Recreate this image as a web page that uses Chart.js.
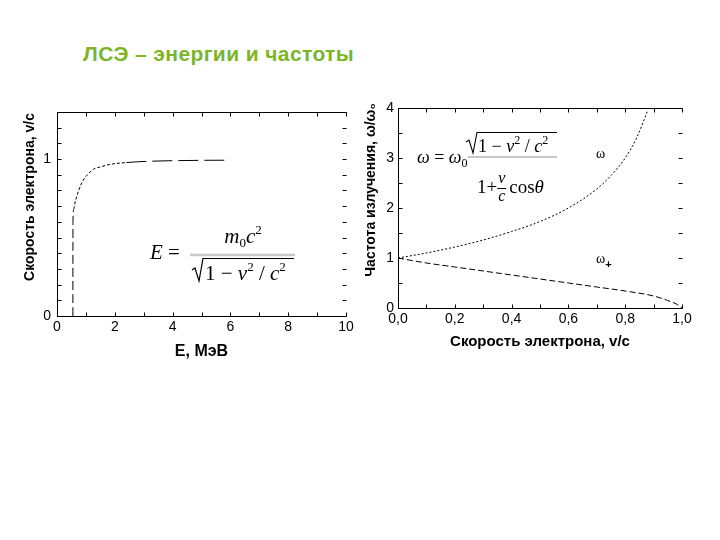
<!DOCTYPE html>
<html lang="ru">
<head>
<meta charset="UTF-8">
<title>ЛСЭ – энергии и частоты</title>
<script src="https://cdn.jsdelivr.net/npm/chart.js"></script>
<style>
  body { margin: 0; background: #fff; width: 720px; height: 540px; position: relative; overflow: hidden; font-family: "Liberation Sans", Arial, sans-serif; }
  h1 { position: absolute; left: 83px; top: 42px; margin: 0; font-size: 21px; font-weight: bold; letter-spacing: 0.4px; color: #7cb526; }
  .box { position: absolute; top: 85px; width: 360px; height: 280px; }
</style>
</head>
<body>
<h1>ЛСЭ – энергии и частоты</h1>
<div class="box" style="left:0"><canvas id="left"></canvas></div>
<div class="box" style="left:360px"><canvas id="right"></canvas></div>

<script>
// left chart: electron speed vs energy
const energy   = [0.55, 0.552, 0.58, 0.62, 0.68, 0.75, 0.89, 1.05, 1.26, 1.5, 1.83, 2.4, 3.2, 4.1, 5.0, 6.0];
const speedV   = [0.0, 0.6, 0.68, 0.72, 0.76, 0.8, 0.86, 0.9, 0.935, 0.95, 0.966, 0.978, 0.986, 0.99, 0.992, 0.993];

// right chart: frequency vs electron speed
const speedUp  = [0, 0.1, 0.2, 0.3, 0.4, 0.5, 0.6, 0.7, 0.75, 0.8, 0.84, 0.88];
const omegaUp  = [1.0, 1.1, 1.22, 1.36, 1.53, 1.73, 2.0, 2.38, 2.65, 3.0, 3.4, 3.96];
const speedLow = [0, 0.1, 0.2, 0.3, 0.4, 0.5, 0.6, 0.7, 0.8, 0.9, 0.95, 0.98, 1.0];
const omegaLow = [1.0, 0.9, 0.82, 0.74, 0.66, 0.58, 0.5, 0.42, 0.34, 0.24, 0.15, 0.08, 0];

const leftXLabels  = [0, 2, 4, 6, 8, 10];
const leftYLabels  = [0, 1];
const rightXLabels = [0, 0.2, 0.4, 0.6, 0.8, 1.0];
const rightYLabels = [0, 1, 2, 3, 4];

const SANS = '"Liberation Sans", Arial, sans-serif';
const SERIF = '"Liberation Serif", "Times New Roman", serif';

const pts = (xs, ys) => xs.map((x, i) => ({ x, y: ys[i] }));
const near = (v, list) => list.some(l => Math.abs(v - l) < 1e-6);

// box on three sides + inward ticks on all four
const frame = {
  id: 'frame',
  afterDatasetsDraw(chart) {
    const { ctx, chartArea: a, scales: { x, y } } = chart;
    const L = Math.round(a.left) + 0.5, R = Math.round(a.right) + 0.5;
    const T = Math.round(a.top) + 0.5, B = Math.round(a.bottom) + 0.5;
    ctx.save();
    ctx.strokeStyle = '#000';
    ctx.lineWidth = 1;
    ctx.beginPath();
    ctx.moveTo(R, T); ctx.lineTo(L, T); ctx.lineTo(L, B); ctx.lineTo(R, B);
    x.ticks.forEach(t => {
      const p = Math.round(x.getPixelForValue(t.value)) + 0.5;
      ctx.moveTo(p, B); ctx.lineTo(p, B - 4);
      ctx.moveTo(p, T); ctx.lineTo(p, T + 4);
    });
    y.ticks.forEach(t => {
      const p = Math.round(y.getPixelForValue(t.value)) + 0.5;
      ctx.moveTo(L, p); ctx.lineTo(L + 4, p);
      ctx.moveTo(R, p); ctx.lineTo(R - 4, p);
    });
    ctx.stroke();
    ctx.restore();
  }
};

function width(ctx, items) {
  let w = 0;
  items.forEach(([t, f]) => { ctx.font = f; w += ctx.measureText(t).width; });
  return w;
}

function run(ctx, x, y, items) {
  items.forEach(([t, f, dy]) => {
    ctx.font = f;
    ctx.fillText(t, x, y + (dy || 0));
    x += ctx.measureText(t).width;
  });
  return x;
}

function radical(ctx, x, base, top, end) {
  ctx.beginPath();
  ctx.moveTo(x, base - 10);
  ctx.lineTo(x + 3, base - 12);
  ctx.lineTo(x + 7, base + 1);
  ctx.lineTo(x + 11, top);
  ctx.lineTo(end, top);
  ctx.stroke();
}

function vTitle(ctx, text, x, y, font) {
  ctx.save();
  ctx.translate(x, y);
  ctx.rotate(-Math.PI / 2);
  ctx.font = font;
  ctx.textAlign = 'center';
  ctx.textBaseline = 'middle';
  ctx.fillStyle = '#000';
  ctx.fillText(text, 0, 0);
  ctx.restore();
}

const leftNotes = {
  id: 'leftNotes',
  afterDraw(chart) {
    const ctx = chart.ctx;
    const I = 'italic 21px ' + SERIF, R = '21px ' + SERIF, S = '13px ' + SERIF;
    ctx.save();
    ctx.fillStyle = '#000';
    ctx.strokeStyle = '#000';
    ctx.lineWidth = 1;
    vTitle(ctx, 'Скорость электрона, v/c', 30, 112, 'bold 14px ' + SANS);
    run(ctx, 150, 174, [['E', I], [' = ', R]]);
    ctx.save();
    ctx.strokeStyle = '#c8c8c8'; ctx.lineWidth = 2.5;
    ctx.beginPath(); ctx.moveTo(190, 170); ctx.lineTo(295, 170); ctx.stroke();
    ctx.restore();
    const num = [['m', I], ['0', S, 4], ['c', I], ['2', S, -9]];
    run(ctx, 243 - width(ctx, num) / 2, 158, num);
    const den = [['1', R], [' − ', R], ['v', I], ['2', S, -9], [' / ', R], ['c', I], ['2', S, -9]];
    const end = run(ctx, 205, 195, den);
    ctx.lineWidth = 1.2;
    radical(ctx, 192, 195, 173.5, Math.max(end + 2, 294));
    ctx.restore();
  }
};

const rightNotes = {
  id: 'rightNotes',
  afterDraw(chart) {
    const ctx = chart.ctx;
    const I = 'italic 18px ' + SERIF, R = '18px ' + SERIF, S = '12px ' + SERIF;
    ctx.save();
    ctx.fillStyle = '#000';
    ctx.strokeStyle = '#000';
    ctx.lineWidth = 1;
    vTitle(ctx, 'Частота излучения, ω/ω₀', 11, 105, 'bold 14px ' + SANS);
    run(ctx, 57, 78, [['ω', I], [' = ', R], ['ω', I], ['0', S, 4]]);
    ctx.save();
    ctx.strokeStyle = '#b4b4b4'; ctx.lineWidth = 1.5;
    ctx.beginPath(); ctx.moveTo(108, 72); ctx.lineTo(197, 72); ctx.stroke();
    ctx.restore();
    const end = run(ctx, 118, 67, [['1', R], [' − ', R], ['v', I], ['2', S, -8], [' / ', R], ['c', I], ['2', S, -8]]);
    ctx.lineWidth = 1.1;
    radical(ctx, 106, 67, 47.5, Math.max(end + 2, 197));
    ctx.lineWidth = 1;
    let x = run(ctx, 117, 108, [['1', '19px ' + SERIF], ['+', '19px ' + SERIF]]);
    run(ctx, x + 1, 98, [['v', 'italic 16px ' + SERIF]]);
    run(ctx, x + 1, 116, [['c', 'italic 16px ' + SERIF]]);
    ctx.beginPath(); ctx.moveTo(x, 103.5); ctx.lineTo(x + 9, 103.5); ctx.stroke();
    run(ctx, x + 12, 108, [['cos', '19px ' + SERIF], ['θ', 'italic 19px ' + SERIF]]);
    run(ctx, 236, 73, [['ω', '14px ' + SERIF]]);
    run(ctx, 236, 178, [['ω', '14px ' + SERIF], ['+', 'bold 11px ' + SANS, 5]]);
    ctx.restore();
  }
};

const tickFont = { family: SANS, size: 14 };

function baseOptions(o) {
  return {
    responsive: true,
    maintainAspectRatio: false,
    animation: false,
    layout: { padding: o.padding },
    plugins: { legend: { display: false }, tooltip: { enabled: false } },
    scales: {
      x: {
        type: 'linear', min: o.xMin, max: o.xMax,
        grid: { display: false, drawTicks: false },
        border: { display: false },
        ticks: { stepSize: o.xStep, autoSkip: false, maxRotation: 0, padding: 3, color: '#000', font: tickFont, callback: o.xFmt },
        title: { display: true, text: o.xTitle, color: '#000', font: o.xTitleFont, padding: { top: 0, bottom: o.xTitlePad } },
        afterFit: s => { s.height = o.xHeight; }
      },
      y: {
        type: 'linear', min: o.yMin, max: o.yMax,
        grid: { display: false, drawTicks: false },
        border: { display: false },
        ticks: { stepSize: o.yStep, autoSkip: false, padding: o.yPad, color: '#000', font: tickFont, callback: o.yFmt },
        afterFit: s => { s.width = o.yWidth; }
      }
    }
  };
}

new Chart(document.getElementById('left'), {
  type: 'line',
  data: {
    datasets: [{
      data: pts(energy, speedV),
      borderColor: '#000', borderWidth: 1, pointRadius: 0, fill: false,
      cubicInterpolationMode: 'monotone',
      segment: {
        borderDash: c => c.p0.parsed.x >= 2.4 ? [20, 6] : (c.p1.parsed.y <= 0.68 ? [9, 4] : [3, 2])
      }
    }]
  },
  options: baseOptions({
    padding: { top: 27, right: 14, left: 0, bottom: 0 },
    xMin: 0, xMax: 10, xStep: 1,
    xFmt: v => near(v, leftXLabels) ? String(Math.round(v)) : '',
    yMin: 0, yMax: 1.3, yStep: 0.1,
    yFmt: v => near(v, leftYLabels) ? String(Math.round(v)) : '',
    xTitle: 'E, МэВ', xTitleFont: { family: SANS, size: 16, weight: 'bold' }, xTitlePad: 4,
    xHeight: 49, yWidth: 57, yPad: 6
  }),
  plugins: [frame, leftNotes]
});

new Chart(document.getElementById('right'), {
  type: 'line',
  data: {
    datasets: [
      {
        data: pts(speedUp, omegaUp),
        borderColor: '#000', borderWidth: 1, pointRadius: 0, fill: false,
        cubicInterpolationMode: 'monotone', borderDash: [2, 2]
      },
      {
        data: pts(speedLow, omegaLow),
        borderColor: '#000', borderWidth: 1, pointRadius: 0, fill: false,
        cubicInterpolationMode: 'monotone', borderDash: [6, 3]
      }
    ]
  },
  options: baseOptions({
    padding: { top: 23, right: 38, left: 0, bottom: 0 },
    xMin: 0, xMax: 1, xStep: 0.1,
    xFmt: v => near(v, rightXLabels) ? v.toFixed(1).replace('.', ',') : '',
    yMin: 0, yMax: 4, yStep: 0.5,
    yFmt: v => near(v, rightYLabels) ? String(Math.round(v)) : '',
    xTitle: 'Скорость электрона, v/c', xTitleFont: { family: SANS, size: 15, weight: 'bold' }, xTitlePad: 14,
    xHeight: 57, yWidth: 38, yPad: 4
  }),
  plugins: [frame, rightNotes]
});
</script>
</body>
</html>
